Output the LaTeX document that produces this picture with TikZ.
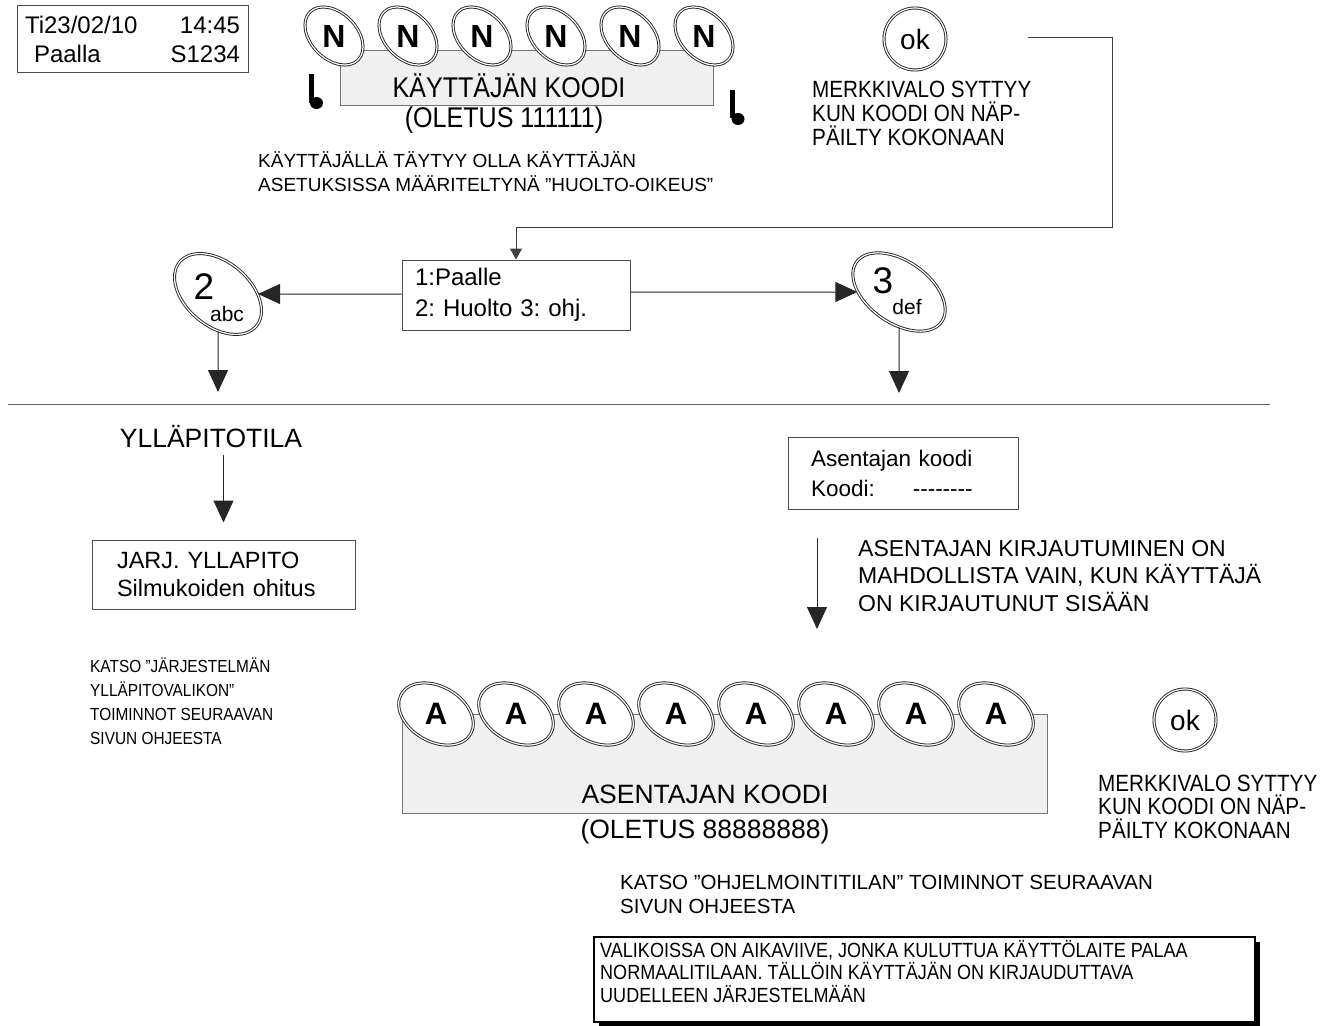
\documentclass[tikz,border=0pt]{standalone}
\usepackage{fontspec}
\setmainfont{Liberation Sans}
\newfontfamily\condfont{Liberation Sans}[FakeStretch=0.88]
\usetikzlibrary{shapes.geometric,arrows.meta,shadows}
\newcommand\fsz[2]{\fontsize{#1}{#2}\selectfont}
\tikzset{
  keycap/.style={ellipse, draw=black!85, line width=0.9pt, double=white, double distance=1.2pt, fill=white, inner sep=0pt},
  nkey/.style={keycap, rotate=-45, minimum width=68pt, minimum height=46pt, font=\fsz{32}{32}\bfseries},
  akey/.style={keycap, rotate=-30, minimum width=80pt, minimum height=55pt, font=\fsz{31}{31}\bfseries},
  okkey/.style={circle, draw=black!85, line width=0.9pt, double=white, double distance=1.2pt, inner sep=0pt, minimum size=62pt, font=\fsz{28}{28}},
  codebox/.style={draw=black!55, fill=black!6, line width=0.9pt},
  screen/.style={draw=black!70, line width=1pt, align=left, inner ysep=0pt},
  lbl/.style={anchor=base west, align=left, inner sep=0pt},
  arr/.style={draw=black!85, line width=1pt, -{Triangle[length=22pt,width=20pt]}},
  smallarr/.style={draw=black!75, line width=1pt, -{Triangle[length=11pt,width=12pt]}}
}
\begin{document}
\frenchspacing
\begin{tikzpicture}[x=1pt,y=-1pt]
\useasboundingbox (0,0) rectangle (1343,1025);
\node[screen, text width=215pt, inner xsep=8pt, minimum height=66pt, font=\fsz{24}{29}] (disp) at (132.5,39) {Ti23/02/10\hfill 14:45\\\hspace*{9pt}Paalla\hfill S1234};
\draw[codebox] (340,50) rectangle (713,105);
\foreach \i in {0,...,5}
  \node[nkey] (n\i) at (334+74*\i,36) {\rotatebox{45}{N}};
\fill (309,74) rectangle (314,103);
\fill (316.5,103) ellipse [x radius=6.5, y radius=6];
\fill (730,90) rectangle (735,118);
\fill (738,119) ellipse [x radius=6.5, y radius=6];
\node[anchor=base, inner sep=0pt, font=\condfont\fsz{28.5}{30}] (usercode) at (509,97) {KÄYTTÄJÄN KOODI};
\node[anchor=base, inner sep=0pt, font=\condfont\fsz{28.5}{30}] (userdef) at (504,127) {(OLETUS 111111)};
\node[lbl, font=\fsz{19}{24}] (rights) at (258,191) {KÄYTTÄJÄLLÄ TÄYTYY OLLA KÄYTTÄJÄN\\ASETUKSISSA MÄÄRITELTYNÄ ”HUOLTO-OIKEUS”};
\node[okkey] (ok1) at (915,39) {ok};
\node[lbl, font=\condfont\fsz{23.5}{24}] (okinfo) at (812,145) {MERKKIVALO SYTTYY\\KUN KOODI ON NÄP-\\PÄILTY KOKONAAN};
\node[screen, text width=202pt, inner xsep=13pt, minimum height=70pt, font=\fsz{24}{31}] (menu) at (516,295) {1:Paalle\\2: Huolto 3: ohj.};
\coordinate (okwire) at (1028,38);
\coordinate (wirebend) at (1112,227);
\draw[smallarr] (okwire) -| (wirebend) -| (menu.north);
\node[keycap, rotate=-40, minimum width=100pt, minimum height=64pt] (k2) at (218,294) {};
\node[inner sep=0pt, font=\fsz{37}{37}] (k2num) at (204,287) {2};
\node[inner sep=0pt, font=\fsz{21}{21}] (k2abc) at (227,314) {abc};
\node[keycap, rotate=-35, minimum width=104pt, minimum height=62pt] (k3) at (899,292) {};
\node[inner sep=0pt, font=\fsz{37}{37}] (k3num) at (883,281) {3};
\node[inner sep=0pt, font=\fsz{21}{21}] (k3def) at (907,307) {def};
\draw[arr] (menu.west |- k2) -- (k2);
\draw[arr] (menu.east |- k3) -- (k3);
\coordinate (k2end) at (218,392);
\coordinate (k3end) at (899,393);
\draw[arr] (k2) -- (k2end);
\draw[arr] (k3) -- (k3end);
\draw[black!60, line width=1pt] (8,404) -- (1270,404);
\node[anchor=base, inner sep=0pt, font=\fsz{26.5}{30}] (yllapito) at (211,447) {YLLÄPITOTILA};
\node[screen, text width=213pt, inner xsep=25pt, minimum height=69pt, font=\fsz{23.5}{28}] (jarj) at (223.5,574.5) {JARJ. YLLAPITO\\Silmukoiden ohitus};
\draw[arr, shorten <=8pt, shorten >=17pt] (yllapito.south -| jarj.north) -- (jarj.north);
\node[lbl, font=\condfont\fsz{17.5}{24}] (seemaint) at (90,744) {KATSO ”JÄRJESTELMÄN\\YLLÄPITOVALIKON”\\TOIMINNOT SEURAAVAN\\SIVUN OHJEESTA};
\node[screen, text width=184pt, inner xsep=23pt, minimum height=72pt, font=\fsz{22.5}{30}] (asbox) at (903,473) {Asentajan koodi\\Koodi:\hspace{38pt}-{}-{}-{}-{}-{}-{}-{}-};
\coordinate (asarrow) at (817,629);
\draw[arr, shorten <=28pt] (asbox.south -| asarrow) -- (asarrow);
\node[lbl, font=\fsz{23}{27.5}] (loginfo) at (858,611) {ASENTAJAN KIRJAUTUMINEN ON\\MAHDOLLISTA VAIN, KUN KÄYTTÄJÄ\\ON KIRJAUTUNUT SISÄÄN};
\draw[codebox] (402,714) rectangle (1047,813);
\foreach \i in {0,...,7}
  \node[akey] (a\i) at (436+80*\i,714) {\rotatebox{30}{A}};
\node[anchor=base, inner sep=0pt, font=\fsz{26.5}{30}] (instcode) at (705,803) {ASENTAJAN KOODI};
\node[anchor=base, inner sep=0pt, font=\fsz{26.5}{30}] (instdef) at (705,838) {(OLETUS 88888888)};
\node[okkey] (ok2) at (1185,720) {ok};
\node[lbl, font=\condfont\fsz{23.5}{23.5}] (okinfo2) at (1098,838) {MERKKIVALO SYTTYY\\KUN KOODI ON NÄP-\\PÄILTY KOKONAAN};
\node[lbl, font=\fsz{20.5}{24}] (seeprog) at (620,913) {KATSO ”OHJELMOINTITILAN” TOIMINNOT SEURAAVAN\\SIVUN OHJEESTA};
\node[draw=black, line width=1.2pt, fill=white, general shadow={fill=black, shadow xshift=5pt, shadow yshift=-5pt}, minimum width=661pt, minimum height=85pt] (note) at (924.5,979.5) {};
\node[lbl, font=\condfont\fsz{20.5}{22.5}] (notetext) at (600,1002) {VALIKOISSA ON AIKAVIIVE, JONKA KULUTTUA KÄYTTÖLAITE PALAA\\NORMAALITILAAN. TÄLLÖIN KÄYTTÄJÄN ON KIRJAUDUTTAVA\\UUDELLEEN JÄRJESTELMÄÄN};
\end{tikzpicture}
\end{document}
